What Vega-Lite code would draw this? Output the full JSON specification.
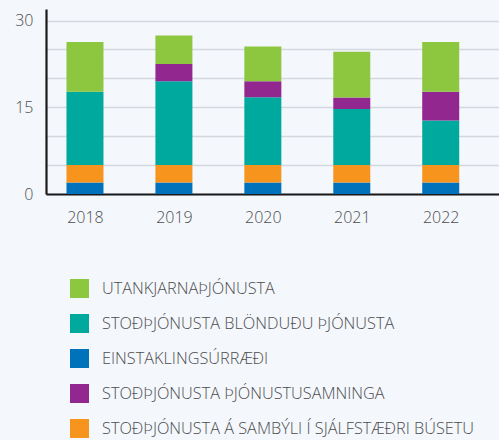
{
  "$schema": "https://vega.github.io/schema/vega-lite/v6.json",
  "autosize": "none",
  "width": 453,
  "height": 185,
  "padding": {"left": 46, "top": 9, "right": 0, "bottom": 246},
  "background": "#f4f7fc",
  "config": {
    "view": {"stroke": null},
    "font": "Open Sans",
    "axis": {"labelFont": "Open Sans", "labelFontSize": 16, "labelFontWeight": 300, "labelColor": "#4d4d4d", "ticks": false, "title": null, "domainColor": "#1a1a1a", "domainWidth": 2.2}
  },
  "data": {
    "values": [
      {"year": 2018, "category": "EINSTAKLINGSÚRRÆÐI", "value": 2.0, "order": 1},
      {"year": 2018, "category": "STOÐÞJÓNUSTA Á SAMBÝLI Í SJÁLFSTÆÐRI BÚSETU", "value": 3.0, "order": 2},
      {"year": 2018, "category": "STOÐÞJÓNUSTA BLÖNDUÐU ÞJÓNUSTA", "value": 12.7, "order": 3},
      {"year": 2018, "category": "STOÐÞJÓNUSTA ÞJÓNUSTUSAMNINGA", "value": 0, "order": 4},
      {"year": 2018, "category": "UTANKJARNAÞJÓNUSTA", "value": 8.6, "order": 5},
      {"year": 2019, "category": "EINSTAKLINGSÚRRÆÐI", "value": 2.0, "order": 1},
      {"year": 2019, "category": "STOÐÞJÓNUSTA Á SAMBÝLI Í SJÁLFSTÆÐRI BÚSETU", "value": 3.0, "order": 2},
      {"year": 2019, "category": "STOÐÞJÓNUSTA BLÖNDUÐU ÞJÓNUSTA", "value": 14.5, "order": 3},
      {"year": 2019, "category": "STOÐÞJÓNUSTA ÞJÓNUSTUSAMNINGA", "value": 3.0, "order": 4},
      {"year": 2019, "category": "UTANKJARNAÞJÓNUSTA", "value": 4.9, "order": 5},
      {"year": 2020, "category": "EINSTAKLINGSÚRRÆÐI", "value": 2.0, "order": 1},
      {"year": 2020, "category": "STOÐÞJÓNUSTA Á SAMBÝLI Í SJÁLFSTÆÐRI BÚSETU", "value": 3.0, "order": 2},
      {"year": 2020, "category": "STOÐÞJÓNUSTA BLÖNDUÐU ÞJÓNUSTA", "value": 11.75, "order": 3},
      {"year": 2020, "category": "STOÐÞJÓNUSTA ÞJÓNUSTUSAMNINGA", "value": 2.75, "order": 4},
      {"year": 2020, "category": "UTANKJARNAÞJÓNUSTA", "value": 6.0, "order": 5},
      {"year": 2021, "category": "EINSTAKLINGSÚRRÆÐI", "value": 2.0, "order": 1},
      {"year": 2021, "category": "STOÐÞJÓNUSTA Á SAMBÝLI Í SJÁLFSTÆÐRI BÚSETU", "value": 3.0, "order": 2},
      {"year": 2021, "category": "STOÐÞJÓNUSTA BLÖNDUÐU ÞJÓNUSTA", "value": 9.7, "order": 3},
      {"year": 2021, "category": "STOÐÞJÓNUSTA ÞJÓNUSTUSAMNINGA", "value": 2.0, "order": 4},
      {"year": 2021, "category": "UTANKJARNAÞJÓNUSTA", "value": 7.9, "order": 5},
      {"year": 2022, "category": "EINSTAKLINGSÚRRÆÐI", "value": 2.0, "order": 1},
      {"year": 2022, "category": "STOÐÞJÓNUSTA Á SAMBÝLI Í SJÁLFSTÆÐRI BÚSETU", "value": 3.0, "order": 2},
      {"year": 2022, "category": "STOÐÞJÓNUSTA BLÖNDUÐU ÞJÓNUSTA", "value": 7.7, "order": 3},
      {"year": 2022, "category": "STOÐÞJÓNUSTA ÞJÓNUSTUSAMNINGA", "value": 5.0, "order": 4},
      {"year": 2022, "category": "UTANKJARNAÞJÓNUSTA", "value": 8.6, "order": 5}
    ]
  },
  "mark": {"type": "bar", "size": 37},
  "encoding": {
    "x": {
      "field": "year", "type": "quantitative",
      "scale": {"domain": [2017.618, 2022.599], "nice": false, "zero": false},
      "axis": {"values": [2018, 2019, 2020, 2021, 2022], "format": "d", "grid": false, "labelPadding": 15, "labelFlush": false}
    },
    "y": {
      "field": "value", "type": "quantitative", "stack": "zero",
      "scale": {"domain": [0, 32], "nice": false},
      "axis": {
        "values": [0, 5, 10, 15, 20, 25, 30],
        "labelExpr": "datum.value % 15 == 0 ? datum.label : ''",
        "grid": true, "gridColor": "#d3d8de", "gridWidth": 1.5,
        "labelPadding": 13, "labelFlush": false
      }
    },
    "color": {
      "field": "category", "type": "nominal",
      "scale": {
        "domain": ["UTANKJARNAÞJÓNUSTA", "STOÐÞJÓNUSTA BLÖNDUÐU ÞJÓNUSTA", "EINSTAKLINGSÚRRÆÐI", "STOÐÞJÓNUSTA ÞJÓNUSTUSAMNINGA", "STOÐÞJÓNUSTA Á SAMBÝLI Í SJÁLFSTÆÐRI BÚSETU"],
        "range": ["#8dc63f", "#00a99d", "#0072bc", "#92278f", "#f7941d"]
      },
      "legend": {
        "orient": "none", "legendX": 24, "legendY": 270, "title": null,
        "symbolType": "square", "symbolSize": 361, "symbolStrokeWidth": 0, "symbolOpacity": 1,
        "labelFont": "Open Sans", "labelFontSize": 16.3, "labelFontWeight": 300, "labelColor": "#4d4d4d", "labelOffset": 13,
        "rowPadding": 16, "labelLimit": 500
      }
    },
    "order": {"field": "order", "type": "quantitative"}
  }
}
